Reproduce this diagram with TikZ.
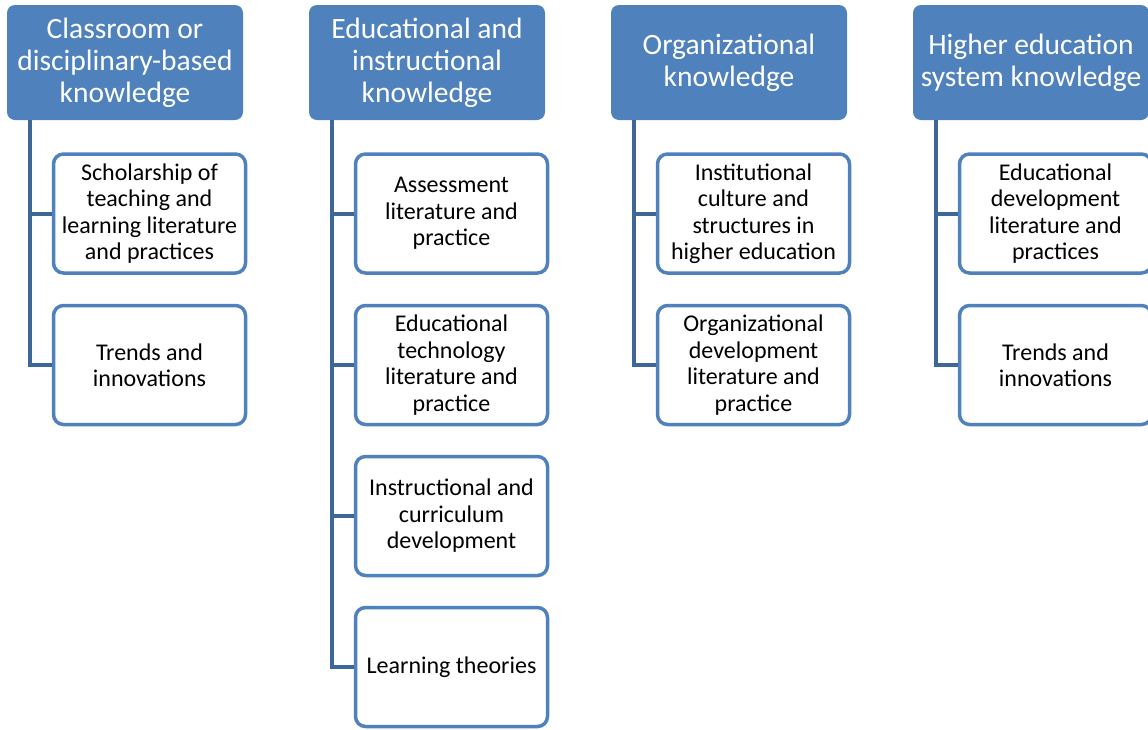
\documentclass[tikz,border=0pt]{standalone}
\usepackage{fontspec}
\setmainfont{Carlito}
\definecolor{hdr}{HTML}{4F81BD}
\definecolor{conn}{HTML}{3D6699}
\begin{document}
\begin{tikzpicture}[x=1pt,y=-1pt,
  header/.style={draw=none,fill=hdr,rounded corners=8pt,minimum width=236pt,minimum height=115pt,
    text=white,align=center,font=\fontsize{29.5}{32}\selectfont,inner sep=0pt},
  child/.style={draw=hdr,line width=3.5pt,fill=white,rounded corners=10pt,minimum width=192pt,minimum height=119pt,
    text=black,align=center,font=\fontsize{24}{26.5}\selectfont,inner sep=0pt},
  link/.style={draw=conn,line width=4pt}]
\useasboundingbox (0,0) rectangle (1148,729);
\begin{scope}
\clip (0,0) rectangle (1148,729);
% headers
\node[header] (h1) at (125,62.5) {Classroom or\\disciplinary-based\\knowledge};
\node[header] (h2) at (427,62.5) {Educational and\\instructional\\knowledge};
\node[header] (h3) at (729,62.5) {Organizational\\knowledge};
\node[header] (h4) at (1031,62.5) {Higher education\\system knowledge};
% connector coordinates
\coordinate (t1) at (30,120);
\coordinate (t2) at (332,120);
\coordinate (t3) at (634,120);
\coordinate (t4) at (936,120);
\coordinate (b11) at (30,213.5);
\coordinate (b12) at (30,365);
\coordinate (b21) at (332,213.5);
\coordinate (b22) at (332,365);
\coordinate (b23) at (332,516);
\coordinate (b24) at (332,667);
\coordinate (b31) at (634,213.5);
\coordinate (b32) at (634,365);
\coordinate (b41) at (936,213.5);
\coordinate (b42) at (936,365);
% children
\node[child] (c11) at (149.5,213.5) {Scholarship of\\teaching and\\learning literature\\and practices};
\node[child] (c12) at (149.5,365) {Trends and\\innovations};
\node[child] (c21) at (451.5,213.5) {Assessment\\literature and\\practice};
\node[child] (c22) at (451.5,365) {Educational\\technology\\literature and\\practice};
\node[child] (c23) at (451.5,516) {Instructional and\\curriculum\\development};
\node[child] (c24) at (451.5,667) {Learning theories};
\node[child] (c31) at (753.5,213.5) {Institutional\\culture and\\structures in\\higher education};
\node[child] (c32) at (753.5,365) {Organizational\\development\\literature and\\practice};
\node[child] (c41) at (1055.5,213.5) {Educational\\development\\literature and\\practices};
\node[child] (c42) at (1055.5,365) {Trends and\\innovations};
\draw[link] (t1) -- (b12) -- (c12.west);
\draw[link] (b11) -- (c11.west);
\draw[link] (t2) -- (b24) -- (c24.west);
\draw[link] (b21) -- (c21.west);
\draw[link] (b22) -- (c22.west);
\draw[link] (b23) -- (c23.west);
\draw[link] (t3) -- (b32) -- (c32.west);
\draw[link] (b31) -- (c31.west);
\draw[link] (t4) -- (b42) -- (c42.west);
\draw[link] (b41) -- (c41.west);
\end{scope}
\end{tikzpicture}
\end{document}
